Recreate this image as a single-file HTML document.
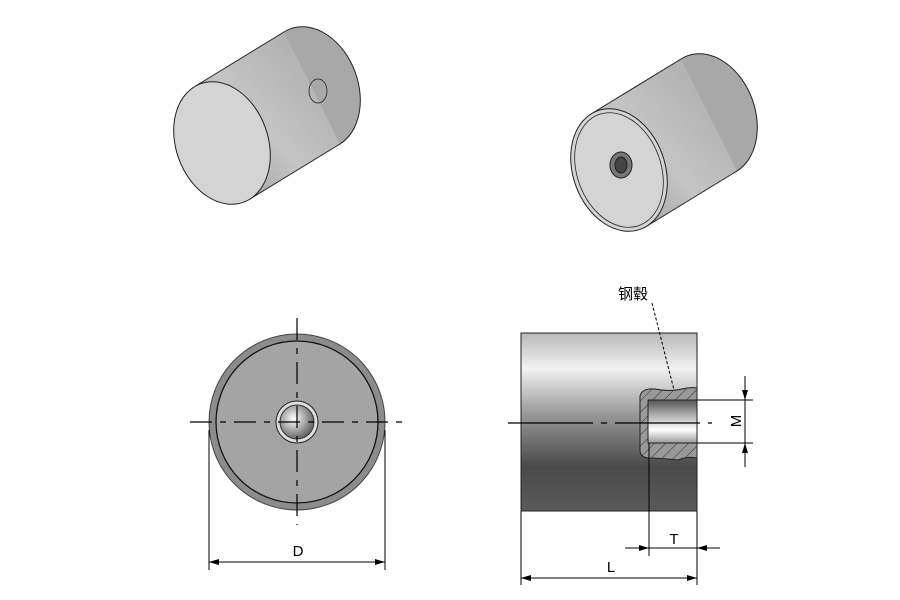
<!DOCTYPE html>
<html><head><meta charset="utf-8"><style>
body{margin:0;background:#fff;width:900px;height:600px;overflow:hidden}
svg{display:block}
text{font-family:"Liberation Sans","Noto Sans CJK SC",sans-serif}
</style></head><body>
<svg width="900" height="600" viewBox="0 0 900 600" xmlns="http://www.w3.org/2000/svg">
<defs>
<linearGradient id="cyl" x1="0" y1="1" x2="1" y2="0">
<stop offset="0" stop-color="#909090"/><stop offset="0.45" stop-color="#c4c4c4"/><stop offset="1" stop-color="#a8a8a8"/></linearGradient>
<linearGradient id="side" x1="0" y1="0" x2="0" y2="1">
<stop offset="0" stop-color="#b8b8b8"/><stop offset="0.2" stop-color="#f2f2f2"/><stop offset="0.45" stop-color="#9a9a9a"/><stop offset="0.75" stop-color="#4a4a4a"/><stop offset="1" stop-color="#5a5a5a"/></linearGradient>
<linearGradient id="bore" x1="0" y1="0" x2="0" y2="1">
<stop offset="0" stop-color="#555"/><stop offset="0.4" stop-color="#bbb"/><stop offset="0.7" stop-color="#fff"/><stop offset="1" stop-color="#999"/></linearGradient>
<radialGradient id="hole" cx="0.4" cy="0.4" r="0.6"><stop offset="0" stop-color="#fff"/><stop offset="1" stop-color="#666"/></radialGradient>
<marker id="ar" viewBox="0 0 10 6" refX="10" refY="3" markerWidth="10" markerHeight="6" orient="auto-start-reverse" markerUnits="userSpaceOnUse"><path d="M0,0L10,3L0,6z" fill="#000"/></marker>
<pattern id="hatch" width="8" height="8" patternUnits="userSpaceOnUse" patternTransform="rotate(45)"><rect width="8" height="8" fill="#999"/><line x1="0" y1="0" x2="0" y2="8" stroke="#333" stroke-width="1"/></pattern>
</defs>

<!-- left iso cylinder -->
<g stroke="#222" stroke-width="1">
<ellipse cx="312" cy="88" rx="46" ry="63" transform="rotate(-20 312 88)" fill="#a8a8a8"/>
<polygon points="194,87 284,32 340,144 250,199" fill="url(#cyl)" stroke="none"/>
<line x1="194" y1="87" x2="284" y2="32"/><line x1="250" y1="199" x2="340" y2="144"/>
<ellipse cx="222" cy="143" rx="46" ry="63" transform="rotate(-20 222 143)" fill="#d4d4d4"/>
<ellipse cx="318" cy="91" rx="9" ry="12" fill="none" stroke-width="0.8"/>
</g>

<!-- right iso cylinder -->
<g stroke="#222" stroke-width="1">
<ellipse cx="709" cy="115" rx="46" ry="63" transform="rotate(-20 709 115)" fill="#a8a8a8"/>
<polygon points="591,114 681,59 737,171 647,226" fill="url(#cyl)" stroke="none"/>
<line x1="591" y1="114" x2="681" y2="59"/><line x1="647" y1="226" x2="737" y2="171"/>
<ellipse cx="619" cy="170" rx="46" ry="63" transform="rotate(-20 619 170)" fill="#d4d4d4"/>
<ellipse cx="619" cy="170" rx="42" ry="59" transform="rotate(-20 619 170)" fill="none" stroke-width="0.8"/>
<ellipse cx="621" cy="165" rx="11" ry="13" fill="#777"/>
<ellipse cx="621" cy="165" rx="6" ry="8" fill="#444"/>
</g>

<!-- front view -->
<g>
<circle cx="297" cy="422" r="88" fill="#8c8c8c" stroke="#444"/>
<circle cx="297" cy="422" r="81" fill="#a4a4a4" stroke="#111" stroke-width="1.3"/>
<circle cx="297" cy="422" r="21" fill="#ddd" stroke="#222"/>
<circle cx="297" cy="422" r="17" fill="url(#hole)" stroke="#333"/>
<g stroke="#000" stroke-width="1.2" stroke-dasharray="22,8,6,8">
<line x1="190" y1="422" x2="404" y2="422"/>
<line x1="297" y1="318" x2="297" y2="525"/>
</g>
<g stroke="#000" stroke-width="1">
<line x1="209" y1="430" x2="209" y2="570"/><line x1="385" y1="430" x2="385" y2="570"/>
<line x1="209" y1="562" x2="385" y2="562" marker-start="url(#ar)" marker-end="url(#ar)"/>
</g>
<text x="298" y="556" font-size="15" text-anchor="middle">D</text>
</g>

<!-- side view -->
<g>
<rect x="521" y="333" width="176" height="178" fill="url(#side)" stroke="#222"/>
<path d="M640,396 Q642,388 655,389 Q670,392 682,389 Q690,387 697,388 L697,458 Q688,456 678,460 Q660,458 648,458 Q640,457 640,450 Z" fill="url(#hatch)" stroke="#222"/>
<rect x="648" y="400" width="49" height="43" fill="url(#bore)" stroke="#222"/>
<line x1="508" y1="423" x2="712" y2="423" stroke="#000" stroke-width="1.2" stroke-dasharray="85,8,6,8"/>
<line x1="652" y1="303" x2="674" y2="390" stroke="#000" stroke-dasharray="3,2"/>
<text x="618" y="299" font-size="15">钢毂</text>
<g stroke="#000" stroke-width="1">
<line x1="697" y1="400" x2="753" y2="400"/><line x1="697" y1="443" x2="753" y2="443"/>
<line x1="745" y1="376" x2="745" y2="400" marker-end="url(#ar)"/>
<line x1="745" y1="400" x2="745" y2="443"/>
<line x1="745" y1="467" x2="745" y2="443" marker-end="url(#ar)"/>
<line x1="649" y1="443" x2="649" y2="556"/>
<line x1="625" y1="548" x2="649" y2="548" marker-end="url(#ar)"/>
<line x1="649" y1="548" x2="697" y2="548"/>
<line x1="720" y1="548" x2="697" y2="548" marker-end="url(#ar)"/>
<line x1="521" y1="511" x2="521" y2="585"/><line x1="697" y1="511" x2="697" y2="585"/>
<line x1="521" y1="578" x2="697" y2="578" marker-start="url(#ar)" marker-end="url(#ar)"/>
</g>
<text x="674" y="544" font-size="15" text-anchor="middle">T</text>
<text x="611" y="572" font-size="15" text-anchor="middle">L</text>
<text x="0" y="0" font-size="15" text-anchor="middle" transform="translate(741,421) rotate(-90)">M</text>
</g>
</svg>
</body></html>
